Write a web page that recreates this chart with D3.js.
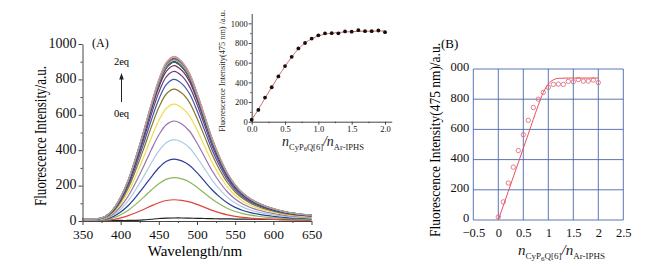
<!DOCTYPE html>
<html lang="en">
<head>
<meta charset="UTF-8" />
<title>Fluorescence titration</title>
<style>
  body { margin: 0; background: #fff; }
  svg { font-family: "Liberation Serif", "Times New Roman", serif; }
  .axis path, .axis line { stroke: #444; }
  .axis text { fill: #111; font-family: "Liberation Serif", "Times New Roman", serif; }
  .spec { fill: none; stroke-width: 1.2; }
  .gridB line { stroke: #4a66ae; stroke-width: 0.9; }
</style>
</head>
<body>
<svg id="chart" width="663" height="277"></svg>
<script src="https://cdn.jsdelivr.net/npm/d3@7"></script>
<script>
// ---- data ----
const wavelengths = [350,360,370,380,390,400,410,420,430,440,450,460,470,480,490,500,
  510,520,530,540,550,560,570,580,590,600,610,620,630,640,650];
// shape of the emission band (top curve / its peak)
const bandShape = [0.012,0.012,0.014,0.028,0.07,0.145,0.25,0.39,0.545,0.71,0.86,0.965,1.0,0.97,0.9,0.78,
  0.64,0.5,0.385,0.29,0.22,0.17,0.135,0.11,0.09,0.075,0.062,0.052,0.045,0.04,0.035];
// 0 eq spectrum
const blankSpectrum = [6,6,5,5,4,3,3,4,6,10,14,16,17,17,16,15,14,13,12,12,11,11,10,10,9,9,8,8,8,7,7];
// ratios n(CyP6Q[6]) / n(Ar-IPHS)
const ratios = [0,0.1,0.2,0.3,0.4,0.5,0.6,0.7,0.8,0.9,1.0,1.1,1.2,1.3,1.4,1.5,1.6,1.7,1.8,1.9,2.0];
// intensity at 475 nm for each ratio
const intensity = [20,120,245,350,460,565,660,745,800,845,878,898,900,898,918,915,930,920,920,927,910];
// fitted curve in the inset
const fitInset = [20,125,240,350,460,563,658,740,800,843,872,890,900,907,912,915,918,920,921,922,922];
// linear fit in panel B
const fitBx = [0,0.2,0.4,0.6,0.8,0.9,1.0,1.1,1.2,1.4,1.7,2.0];
const fitBy = [0,190,380,570,760,845,900,928,938,940,940,940];
const specColors = ["#222222","#e0443c","#88b858","#2a3e9a","#a8cce0","#9a72b0","#f0dc50","#8a7628",
  "#3a58a8","#6a3c88","#7a2e4e","#34346e","#2c2c2c","#3a7070","#4a904a","#283a88","#c88a8a",
  "#909090","#6a6a6a","#d8a0a0","#a0a0a0"];
const xTicksA = [350,400,450,500,550,600,650];
const yTicksA = [0,200,400,600,800,1000];
const xTicksI = [0,0.5,1.0,1.5,2.0];
const yTicksI = [0,200,400,600,800,1000];
const xTicksB = [-0.5,0,0.5,1,1.5,2,2.5];
const yTicksB = [0,200,400,600,800,1000];

const svg = d3.select("#chart");
svg.append("rect").attr("width", 663).attr("height", 277).attr("fill", "#fff");

// ---------------- panel A ----------------
const xA = d3.scaleLinear().domain([350, 650]).range([82.5, 311.5]);
const yA = d3.scaleLinear().domain([0, 1000]).range([221, 44]);
const gA = svg.append("g");

// spectra: blank, then each titration step
const specLine = d3.line().x(d => xA(d[0])).y(d => yA(d[1])).curve(d3.curveCatmullRom);
const spectra = intensity.map((p, i) =>
  i === 0 ? wavelengths.map((w, j) => [w, blankSpectrum[j]])
          : wavelengths.map((w, j) => [w, bandShape[j] * p]));
gA.selectAll(".spec").data(spectra).enter().append("path")
  .attr("class", "spec")
  .attr("stroke", (d, i) => specColors[i])
  .attr("d", specLine);

gA.append("g").attr("class", "axis").attr("transform", "translate(0,221)")
  .call(d3.axisBottom(xA).tickValues(xTicksA).tickSize(4).tickSizeOuter(0).tickPadding(4))
  .call(g => g.selectAll("text").attr("font-size", 13.5));
gA.append("g").attr("class", "axis").attr("transform", "translate(0,221)")
  .call(d3.axisBottom(xA).tickValues([375,425,475,525,575,625]).tickSize(2).tickFormat(""))
  .call(g => g.select(".domain").remove());
gA.append("g").attr("class", "axis").attr("transform", "translate(82.5,0)")
  .call(d3.axisLeft(yA).tickValues(yTicksA).tickFormat(d3.format("d")).tickSize(4).tickSizeOuter(0).tickPadding(2))
  .call(g => g.selectAll("text").attr("font-size", 14).attr("dy", "0.22em"));
gA.append("g").attr("class", "axis").attr("transform", "translate(82.5,0)")
  .call(d3.axisLeft(yA).tickValues([100,300,500,700,900]).tickSize(2).tickFormat(""))
  .call(g => g.select(".domain").remove());

gA.append("text").attr("x", 195).attr("y", 256).attr("text-anchor", "middle")
  .attr("font-size", 15).text("Wavelength/nm");
gA.append("text").attr("transform", "translate(46,136) rotate(-90)").attr("text-anchor", "middle")
  .attr("font-size", 16).attr("textLength", 140).attr("lengthAdjust", "spacingAndGlyphs")
  .text("Fluorescence Intensity/a.u.");
gA.append("text").attr("x", 92).attr("y", 47).attr("font-size", 12).text("(A)");
gA.append("text").attr("x", 121.5).attr("y", 65).attr("text-anchor", "middle")
  .attr("font-size", 10.5).text("2eq");
gA.append("text").attr("x", 121.5).attr("y", 117).attr("text-anchor", "middle")
  .attr("font-size", 10.5).text("0eq");
gA.append("line").attr("x1", 121.5).attr("x2", 121.5).attr("y1", 102).attr("y2", 78)
  .attr("stroke", "#222").attr("stroke-width", 1);
gA.append("path").attr("d", "M121.5,73 L119.2,79.5 L123.8,79.5 Z").attr("fill", "#222");

// ---------------- inset ----------------
const xI = d3.scaleLinear().domain([0, 2.1]).range([251.7, 391.7]);
const yI = d3.scaleLinear().domain([0, 1100]).range([121.7, 13.5]);
const gI = svg.append("g");
gI.append("g").attr("class", "axis").attr("transform", "translate(0,121.7)")
  .call(d3.axisBottom(xI).tickValues(xTicksI).tickFormat(d3.format(".1f")).tickSize(3).tickSizeOuter(0).tickPadding(1))
  .call(g => g.selectAll("text").attr("font-size", 8.5));
gI.append("g").attr("class", "axis").attr("transform", "translate(0,121.7)")
  .call(d3.axisBottom(xI).tickValues([0.25,0.75,1.25,1.75]).tickSize(1.5).tickFormat(""))
  .call(g => g.select(".domain").remove());
gI.append("g").attr("class", "axis").attr("transform", "translate(251.7,0)")
  .call(d3.axisLeft(yI).tickValues(yTicksI).tickFormat(d3.format("d")).tickSize(3).tickSizeOuter(0).tickPadding(1))
  .call(g => g.selectAll("text").attr("font-size", 8.5));
gI.append("g").attr("class", "axis").attr("transform", "translate(251.7,0)")
  .call(d3.axisLeft(yI).tickValues([100,300,500,700,900]).tickSize(1.5).tickFormat(""))
  .call(g => g.select(".domain").remove());

gI.append("path").datum(ratios.map((r, i) => [r, fitInset[i]]))
  .attr("fill", "none").attr("stroke", "#e06868").attr("stroke-width", 1)
  .attr("d", d3.line().x(d => xI(d[0])).y(d => yI(d[1])).curve(d3.curveMonotoneX));
gI.selectAll(".dot").data(ratios).enter().append("circle")
  .attr("class", "dot").attr("r", 1.9)
  .attr("cx", d => xI(d)).attr("cy", (d, i) => yI(intensity[i]))
  .attr("fill", "#111");

gI.append("text").attr("transform", "translate(225,71) rotate(-90)").attr("text-anchor", "middle")
  .attr("font-size", 9).attr("fill", "#222").attr("textLength", 122).attr("lengthAdjust", "spacingAndGlyphs")
  .text("Fluorescence Intensity(475 nm) /a.u.");

function ratioLabel(sel, big, small, tiny) {
  sel.append("tspan").attr("font-style", "italic").attr("font-size", big).text("n");
  sel.append("tspan").attr("font-size", small).attr("dy", big * 0.25).text("CyP");
  sel.append("tspan").attr("font-size", tiny).attr("dy", big * 0.12).text("6");
  sel.append("tspan").attr("font-size", small).attr("dy", -big * 0.12).text("Q[6]");
  sel.append("tspan").attr("font-size", big).attr("font-style", "italic").attr("dy", -big * 0.25).text("/");
  sel.append("tspan").attr("font-style", "italic").attr("font-size", big).text("n");
  sel.append("tspan").attr("font-size", small).attr("dy", big * 0.25).text("Ar-IPHS");
}
gI.append("text").attr("x", 282).attr("y", 146).attr("fill", "#222")
  .call(ratioLabel, 14, 8.5, 6.5);

// ---------------- panel B ----------------
const xB = d3.scaleLinear().domain([-0.5, 2.5]).range([473.3, 623.3]);
const yB = d3.scaleLinear().domain([0, 1000]).range([220, 69]);
const gB = svg.append("g");

gB.append("g").attr("class", "gridB")
  .selectAll("line").data(xTicksB).enter().append("line")
  .attr("x1", d => xB(d)).attr("x2", d => xB(d)).attr("y1", yB(0)).attr("y2", yB(1000));
gB.append("g").attr("class", "gridB")
  .selectAll("line").data(yTicksB).enter().append("line")
  .attr("y1", d => yB(d)).attr("y2", d => yB(d)).attr("x1", xB(-0.5)).attr("x2", xB(2.5));

gB.append("g").attr("class", "axis").attr("transform", "translate(0,220)")
  .call(d3.axisBottom(xB).tickValues(xTicksB).tickSize(0).tickPadding(8).tickFormat(d3.format("")))
  .call(g => g.select(".domain").remove())
  .call(g => g.selectAll("text").attr("font-size", 12.5));
gB.append("g").attr("class", "axis").attr("transform", "translate(473.3,0)")
  .call(d3.axisLeft(yB).tickValues(yTicksB).tickSize(0).tickPadding(4)
    .tickFormat(d => d === 1000 ? "000" : d))
  .call(g => g.select(".domain").remove())
  .call(g => g.selectAll("text").attr("font-size", 12.5).attr("dy", "0.15em"));

gB.append("path").datum(fitBx.map((x, i) => [x, fitBy[i]]))
  .attr("fill", "none").attr("stroke", "#e8505a").attr("stroke-width", 1)
  .attr("d", d3.line().x(d => xB(d[0])).y(d => yB(d[1])).curve(d3.curveMonotoneX));
gB.selectAll(".pt").data(ratios).enter().append("circle")
  .attr("class", "pt").attr("r", 2.2)
  .attr("cx", d => xB(d)).attr("cy", (d, i) => yB(intensity[i]))
  .attr("fill", "none").attr("stroke", "#e06070").attr("stroke-width", 0.8);

gB.append("text").attr("x", 441).attr("y", 48).attr("font-size", 13).text("(B)");
gB.append("text").attr("transform", "translate(440,140) rotate(-90)").attr("text-anchor", "middle")
  .attr("font-size", 15).attr("textLength", 194).attr("lengthAdjust", "spacingAndGlyphs")
  .text("Fluorescence Intensity(475 nm)/a.u.");
gB.append("text").attr("x", 518).attr("y", 255).attr("fill", "#222")
  .call(ratioLabel, 15, 9, 7);
</script>
</body>
</html>
